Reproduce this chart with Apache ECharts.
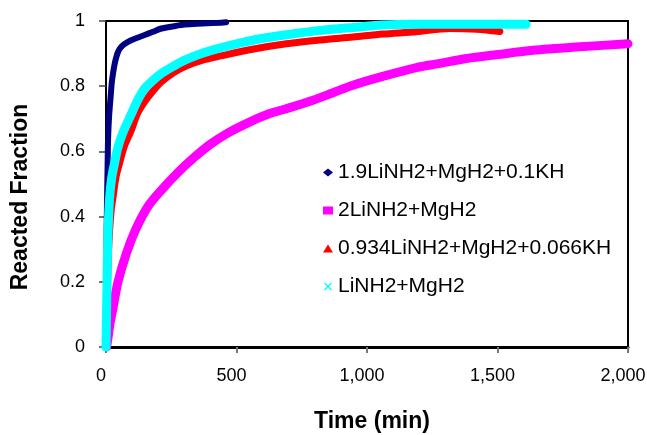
<!DOCTYPE html>
<html>
<head>
<meta charset="utf-8">
<script src="https://cdn.jsdelivr.net/npm/echarts@6/dist/echarts.min.js"></script>
<style>
  html, body { margin: 0; padding: 0; background: #fff; }
  #chart { width: 647px; height: 435px; }
</style>
</head>
<body>
<div id="chart"></div>
<script>
// Reacted fraction vs. time for four LiNH2/MgH2 mixtures
const seriesNames = [
  '1.9LiNH2+MgH2+0.1KH',
  '2LiNH2+MgH2',
  '0.934LiNH2+MgH2+0.066KH',
  'LiNH2+MgH2'
];

// 1.9LiNH2+MgH2+0.1KH
const timeKH01 = [0, 1, 2, 4, 6, 8, 12, 18, 22, 27, 35, 46, 60, 84, 115, 148, 180, 212, 260, 302, 370, 442, 460];
const fracKH01 = [0, 0.17, 0.33, 0.45, 0.55, 0.64, 0.71, 0.77, 0.81, 0.84, 0.875, 0.905, 0.922, 0.936, 0.947, 0.957, 0.967, 0.977, 0.984, 0.989, 0.992, 0.995, 0.996];

// 2LiNH2+MgH2
const time2Li = [2, 8, 15, 27, 46, 78, 113, 160, 212, 275, 340, 400, 468, 550, 627, 691, 793, 870, 946, 1060, 1189, 1280, 1381, 1500, 1636, 1800, 2000];
const frac2Li = [0, 0.03, 0.07, 0.12, 0.2, 0.287, 0.359, 0.43, 0.481, 0.535, 0.583, 0.622, 0.657, 0.69, 0.716, 0.731, 0.757, 0.78, 0.803, 0.83, 0.857, 0.87, 0.885, 0.897, 0.91, 0.92, 0.93];

// 0.934LiNH2+MgH2+0.066KH
const timeKH066 = [0, 3, 6, 9, 14, 20, 27, 38, 52, 70, 97, 120, 148, 180, 212, 260, 314, 380, 440, 550, 691, 820, 946, 1060, 1189, 1317, 1420, 1509];
const fracKH066 = [0, 0.1, 0.2, 0.28, 0.36, 0.42, 0.46, 0.52, 0.564, 0.615, 0.665, 0.715, 0.752, 0.785, 0.813, 0.842, 0.864, 0.882, 0.893, 0.912, 0.93, 0.942, 0.951, 0.96, 0.967, 0.977, 0.975, 0.968];

// LiNH2+MgH2
const time1Li = [0, 2, 4, 6, 8, 14, 22, 33, 45, 64, 95, 120, 148, 180, 212, 260, 302, 350, 404, 480, 580, 691, 820, 946, 1060, 1189, 1350, 1500, 1610];
const frac1Li = [0, 0.1, 0.2, 0.3, 0.36, 0.46, 0.52, 0.565, 0.61, 0.656, 0.711, 0.755, 0.793, 0.818, 0.839, 0.862, 0.88, 0.896, 0.91, 0.926, 0.944, 0.958, 0.971, 0.98, 0.988, 0.99, 0.99, 0.99, 0.99];

const xTicks = [0, 500, 1000, 1500, 2000];
const yTicks = [0, 0.2, 0.4, 0.6, 0.8, 1];

const zip = (t, f) => t.map((v, i) => [v, f[i]]);

const FONT = '"Liberation Sans", Arial, sans-serif';
const crossIcon = 'path://M0,1.2L1.2,0L5,3.8L8.8,0L10,1.2L6.2,5L10,8.8L8.8,10L5,6.2L1.2,10L0,8.8L3.8,5Z';

const chart = echarts.init(document.getElementById('chart'), null, { renderer: 'canvas' });

function curve(name, data, color, width) {
  return {
    name: name,
    type: 'line',
    data: data,
    smooth: 0.3,
    showSymbol: false,
    symbol: 'none',
    lineStyle: { color: color, width: width, cap: 'round', join: 'round' },
    itemStyle: { color: color },
    emphasis: { disabled: true },
    animation: false
  };
}

chart.setOption({
  animation: false,
  backgroundColor: '#ffffff',
  grid: {
    left: 106, right: 19, top: 21, bottom: 88,
    outerBoundsMode: 'none',
    containLabel: false,
    show: true, borderColor: '#000', borderWidth: 2, backgroundColor: 'transparent'
  },
  legend: {
    orient: 'vertical',
    left: 323, top: 162,
    padding: 0,
    itemGap: 17,
    itemWidth: 10, itemHeight: 8,
    textStyle: { fontFamily: FONT, fontSize: 21, color: '#000' },
    data: [
      { name: seriesNames[0], icon: 'diamond', itemStyle: { color: '#000080' } },
      { name: seriesNames[1], icon: 'rect', itemStyle: { color: '#ff00ff' } },
      { name: seriesNames[2], icon: 'triangle', itemStyle: { color: '#ff0000' } },
      { name: seriesNames[3], icon: crossIcon, itemStyle: { color: '#00ffff' } }
    ]
  },
  xAxis: {
    type: 'value',
    min: xTicks[0], max: xTicks[xTicks.length - 1], interval: xTicks[1] - xTicks[0],
    name: 'Time (min)',
    nameLocation: 'middle',
    nameGap: 63,
    nameTextStyle: { fontFamily: FONT, fontSize: 23, fontWeight: 'bold', color: '#000', padding: [0, 0, 0, 10] },
    axisLine: { show: true, onZero: false, lineStyle: { color: '#000', width: 3 } },
    axisTick: { show: true, inside: false, length: 6, lineStyle: { color: '#777', width: 2 } },
    axisLabel: {
      margin: 20,
      padding: [0, 10, 0, 0],
      fontFamily: FONT, fontSize: 18, color: '#000',
      formatter: v => String(v).replace(/\B(?=(\d{3})+(?!\d))/g, ',')
    },
    splitLine: { show: false }
  },
  yAxis: {
    type: 'value',
    min: yTicks[0], max: yTicks[yTicks.length - 1], interval: 0.2,
    name: 'Reacted Fraction',
    nameLocation: 'middle',
    nameGap: 74,
    nameRotate: 90,
    nameTextStyle: { fontFamily: FONT, fontSize: 23, fontWeight: 'bold', color: '#000', padding: [0, 26, 0, 0] },
    axisLine: { show: true, onZero: false, lineStyle: { color: '#000', width: 2 } },
    axisTick: { show: true, inside: false, length: 7, lineStyle: { color: '#444', width: 1.5 } },
    axisLabel: {
      margin: 21,
      fontFamily: FONT, fontSize: 18, color: '#000',
      formatter: v => (v === 0 || v === 1) ? String(v) : v.toFixed(1)
    },
    splitLine: { show: false }
  },
  series: [
    curve(seriesNames[0], zip(timeKH01, fracKH01), '#000080', 6),
    curve(seriesNames[1], zip(time2Li, frac2Li), '#ff00ff', 9),
    curve(seriesNames[2], zip(timeKH066, fracKH066), '#ff0000', 7),
    curve(seriesNames[3], zip(time1Li, frac1Li), '#00ffff', 9)
  ]
});
</script>
</body>
</html>
